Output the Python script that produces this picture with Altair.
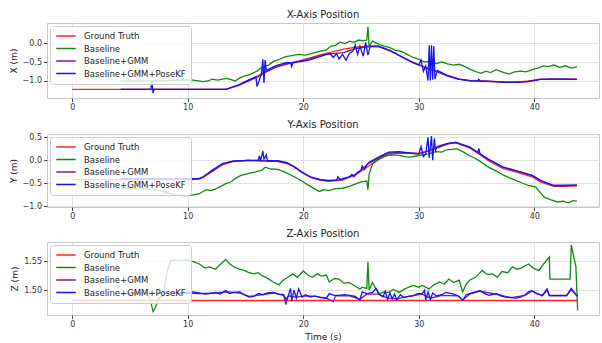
import altair as alt
import pandas as pd

SERIES = ["Ground Truth", "Baseline", "Baseline+GMM", "Baseline+GMM+PoseKF"]
COLORS = ["#ff2424", "#108a10", "#8a1496", "#1414f0"]
X_TICKS = [0, 10, 20, 30, 40]

# ---------------- X-Axis (time, value) ----------------
X_GT = [(0.0, -1.22), (4.2, -1.22), (8.0, -1.22), (13.3, -1.22), (14.4, -1.11), (15.3, -0.98),
        (16.0, -0.88), (16.8, -0.74), (17.6, -0.63), (18.5, -0.55), (19.5, -0.48), (20.5, -0.40),
        (21.5, -0.31), (22.5, -0.23), (23.5, -0.16), (24.5, -0.11), (25.5, -0.08), (26.5, -0.09),
        (27.5, -0.19), (28.5, -0.36), (29.5, -0.50), (30.5, -0.63), (31.5, -0.74), (32.5, -0.86),
        (33.5, -0.95), (34.5, -0.99), (35.5, -1.00), (36.5, -1.01), (37.5, -1.03), (38.5, -1.03),
        (39.5, -1.00), (40.5, -0.96), (41.5, -0.95), (42.5, -0.95), (43.7, -0.96)]
X_BASE = [(4.2, -1.00), (7.3, -1.00), (9.7, -0.97), (10.5, -0.98), (11.3, -1.02), (11.8, -1.00),
          (12.1, -0.95), (12.6, -0.98), (13.3, -0.93), (13.7, -0.96), (14.1, -1.00), (14.5, -0.92),
          (14.9, -0.87), (15.3, -0.84), (15.6, -0.80), (16.0, -0.74), (16.5, -0.62), (17.0, -0.58),
          (17.4, -0.49), (18.0, -0.42), (18.5, -0.36), (19.0, -0.33), (19.6, -0.30), (20.2, -0.32),
          (20.8, -0.27), (21.4, -0.22), (22.0, -0.18), (22.4, -0.08), (22.8, -0.06), (23.2, 0.03),
          (23.6, -0.02), (24.0, 0.05), (24.4, 0.02), (24.8, 0.08), (25.2, 0.06), (25.5, 0.08),
          (25.6, 0.43), (25.7, -0.08), (26.0, 0.05), (26.6, -0.04), (27.0, -0.08), (27.5, -0.12),
          (28.0, -0.19), (28.5, -0.22), (29.0, -0.30), (29.5, -0.38), (30.0, -0.43), (30.5, -0.50),
          (31.0, -0.48), (31.5, -0.54), (32.0, -0.50), (32.5, -0.55), (33.0, -0.58), (33.5, -0.56),
          (34.0, -0.62), (34.5, -0.70), (35.0, -0.76), (35.4, -0.80), (35.8, -0.74), (36.2, -0.78),
          (36.7, -0.70), (37.2, -0.76), (37.8, -0.82), (38.3, -0.76), (38.8, -0.74), (39.3, -0.76),
          (39.8, -0.70), (40.3, -0.66), (40.8, -0.60), (41.2, -0.62), (41.7, -0.58), (42.2, -0.64),
          (42.7, -0.60), (43.2, -0.66), (43.7, -0.62)]
X_GMM = [(4.2, -1.22), (13.3, -1.22), (14.4, -1.12), (15.3, -1.00), (16.0, -0.90), (16.8, -0.76),
         (17.6, -0.64), (18.5, -0.56), (19.5, -0.49), (20.5, -0.42), (21.5, -0.32), (22.5, -0.28),
         (23.5, -0.25), (24.5, -0.15), (25.5, -0.10), (26.5, -0.09), (27.5, -0.20), (28.5, -0.36),
         (29.5, -0.52), (30.5, -0.64), (31.5, -0.75), (32.5, -0.87), (33.5, -0.96), (34.5, -1.00),
         (35.5, -1.01), (36.5, -1.02), (37.5, -1.04), (38.5, -1.04), (39.5, -1.01), (40.5, -0.96),
         (41.5, -0.95), (42.5, -0.95), (43.7, -0.96)]
X_KF = [(4.2, -1.22), (6.8, -1.22), (6.9, -1.00), (7.0, -1.32), (7.1, -1.22), (13.3, -1.22),
        (14.4, -1.10), (15.3, -0.97), (15.9, -0.89), (16.0, -1.15), (16.2, -0.98), (16.4, -0.78),
        (16.5, -0.43), (16.6, -1.05), (16.7, -0.45), (16.8, -0.72), (17.6, -0.60), (18.5, -0.52),
        (18.9, -0.52), (19.0, -0.62), (19.1, -0.52), (20.5, -0.45), (21.5, -0.35), (22.3, -0.27),
        (22.6, -0.38), (22.9, -0.28), (23.1, -0.42), (23.4, -0.30), (23.7, -0.45), (24.0, -0.27),
        (24.3, -0.22), (24.5, -0.05), (24.7, -0.30), (24.9, -0.08), (25.2, -0.35), (25.4, 0.02),
        (25.6, -0.32), (25.8, -0.08), (26.5, -0.08), (27.5, -0.20), (28.0, -0.27), (28.5, -0.36),
        (29.5, -0.52), (30.0, -0.58), (30.2, -0.45), (30.4, -0.75), (30.6, -0.60), (30.8, -0.99),
        (30.9, -0.06), (31.0, -0.99), (31.1, -0.06), (31.2, -0.97), (31.3, -0.08), (31.4, -0.95),
        (31.6, -0.72), (32.5, -0.86), (33.5, -0.95), (34.5, -1.00), (35.1, -1.00), (35.2, -0.96),
        (35.3, -1.00), (36.5, -1.02), (37.5, -1.03), (38.5, -1.03), (39.5, -1.02), (40.5, -0.96),
        (41.5, -0.95), (42.5, -0.95), (43.7, -0.96)]

# ---------------- Y-Axis ----------------
Y_GT = [(0.0, -0.42), (4.2, -0.42), (10.5, -0.42), (11.3, -0.38), (12.1, -0.25), (13.0, -0.10),
        (13.9, -0.03), (15.2, 0.00), (16.4, -0.01), (17.8, -0.03), (18.6, -0.07), (19.3, -0.16),
        (19.9, -0.27), (20.7, -0.38), (21.5, -0.43), (22.2, -0.46), (23.4, -0.43), (24.6, -0.31),
        (25.7, -0.12), (26.6, 0.04), (27.4, 0.13), (28.3, 0.16), (29.2, 0.16), (30.0, 0.15),
        (30.8, 0.20), (31.5, 0.28), (32.5, 0.36), (33.2, 0.38), (34.4, 0.27), (35.3, 0.12),
        (36.1, -0.02), (37.3, -0.18), (38.6, -0.27), (39.8, -0.36), (40.6, -0.48), (41.7, -0.57),
        (42.5, -0.57), (43.7, -0.56)]
Y_BASE = [(4.2, -0.60), (5.5, -0.62), (6.6, -0.63), (7.6, -0.66), (8.4, -0.72), (9.0, -0.76),
          (9.8, -0.77), (10.4, -0.76), (11.0, -0.73), (11.6, -0.64), (12.0, -0.66), (12.5, -0.62),
          (13.3, -0.51), (13.7, -0.48), (14.1, -0.40), (14.6, -0.33), (15.2, -0.29), (15.8, -0.26),
          (16.4, -0.22), (16.7, -0.15), (17.2, -0.19), (17.8, -0.20), (18.5, -0.27), (19.3, -0.37),
          (19.8, -0.44), (20.3, -0.52), (20.7, -0.58), (21.0, -0.63), (21.4, -0.68), (21.8, -0.64),
          (22.2, -0.66), (22.8, -0.62), (23.4, -0.61), (24.0, -0.57), (24.6, -0.51), (25.0, -0.47),
          (25.5, -0.45), (25.6, -0.64), (25.7, -0.30), (26.0, -0.08), (26.6, 0.03), (27.2, 0.10),
          (27.6, 0.12), (28.3, 0.11), (28.8, 0.08), (29.2, 0.07), (29.9, 0.10), (30.8, 0.14),
          (31.5, 0.19), (32.0, 0.18), (32.4, 0.23), (33.3, 0.25), (33.8, 0.19), (34.4, 0.10),
          (34.9, 0.04), (35.4, -0.04), (36.1, -0.16), (36.6, -0.22), (37.3, -0.32), (37.8, -0.38),
          (38.4, -0.44), (38.9, -0.49), (39.5, -0.55), (40.1, -0.58), (40.5, -0.70), (40.9, -0.81),
          (41.4, -0.86), (42.0, -0.91), (42.5, -0.89), (43.0, -0.93), (43.3, -0.88), (43.7, -0.89)]
Y_GMM = [(4.2, -0.41), (11.0, -0.41), (12.1, -0.24), (13.0, -0.08), (13.9, -0.02), (15.2, 0.00),
         (16.4, -0.01), (17.8, -0.02), (18.6, -0.06), (19.3, -0.15), (19.9, -0.26), (20.7, -0.38),
         (21.5, -0.43), (22.2, -0.45), (23.4, -0.42), (24.6, -0.30), (25.7, -0.06), (26.6, 0.06),
         (27.4, 0.16), (28.3, 0.17), (29.2, 0.15), (30.0, 0.14), (31.0, 0.22), (31.8, 0.29),
         (32.5, 0.36), (33.2, 0.39), (34.4, 0.29), (35.3, 0.14), (36.1, 0.01), (37.3, -0.15),
         (38.6, -0.24), (39.8, -0.33), (40.6, -0.45), (41.7, -0.55), (42.5, -0.55), (43.7, -0.54)]
Y_KF = [(4.2, -0.40), (11.0, -0.40), (11.3, -0.37), (12.1, -0.22), (13.0, -0.07), (13.9, -0.02),
        (15.2, 0.00), (16.1, 0.00), (16.2, 0.10), (16.3, -0.02), (16.5, 0.20), (16.6, 0.02),
        (16.8, 0.12), (16.9, -0.01), (17.8, -0.01), (18.6, -0.05), (19.3, -0.15), (19.9, -0.26),
        (20.7, -0.37), (21.5, -0.42), (22.2, -0.44), (22.9, -0.43), (23.0, -0.36), (23.2, -0.42),
        (23.4, -0.40), (24.0, -0.36), (24.2, -0.31), (24.4, -0.36), (24.6, -0.28), (25.0, -0.22),
        (25.1, -0.12), (25.3, -0.20), (25.5, -0.10), (25.7, -0.04), (26.6, 0.08), (27.4, 0.18),
        (28.3, 0.19), (29.2, 0.16), (30.0, 0.14), (30.2, 0.30), (30.4, 0.08), (30.6, 0.14),
        (30.8, 0.50), (30.9, 0.05), (31.1, 0.53), (31.2, 0.00), (31.35, 0.48), (31.45, 0.22),
        (31.6, 0.30), (32.5, 0.37), (33.2, 0.39), (34.4, 0.29), (35.1, 0.17), (35.2, 0.26),
        (35.3, 0.14), (36.1, 0.01), (37.3, -0.15), (38.6, -0.24), (39.8, -0.33), (40.6, -0.45),
        (41.7, -0.55), (42.5, -0.55), (43.7, -0.54)]

# ---------------- Z-Axis ----------------
Z_GT = [(0.0, 1.482), (10.0, 1.482), (20.0, 1.482), (30.0, 1.482), (43.75, 1.482)]
Z_BASE = [(4.2, 1.494), (6.5, 1.494), (6.8, 1.480), (7.0, 1.463), (7.2, 1.470), (7.5, 1.486),
          (7.9, 1.490), (8.2, 1.530), (8.5, 1.551), (9.9, 1.552), (10.5, 1.549), (11.0, 1.545),
          (11.5, 1.538), (11.9, 1.540), (12.4, 1.536), (12.8, 1.544), (13.3, 1.553), (13.6, 1.546),
          (14.0, 1.540), (14.5, 1.536), (14.9, 1.534), (15.2, 1.531), (15.7, 1.528), (16.1, 1.530),
          (16.5, 1.524), (16.8, 1.522), (17.1, 1.518), (17.4, 1.514), (17.9, 1.509), (18.2, 1.516),
          (18.5, 1.520), (18.8, 1.524), (19.1, 1.528), (19.5, 1.522), (20.0, 1.533), (20.4, 1.526),
          (20.8, 1.522), (21.2, 1.528), (21.6, 1.524), (22.0, 1.526), (22.25, 1.514), (22.7, 1.520),
          (23.1, 1.519), (23.5, 1.512), (24.0, 1.513), (24.4, 1.508), (24.9, 1.502), (25.1, 1.505),
          (25.5, 1.503), (25.6, 1.549), (25.7, 1.500), (26.0, 1.513), (26.2, 1.505), (26.6, 1.494),
          (27.0, 1.497), (27.4, 1.496), (27.8, 1.501), (28.3, 1.496), (28.8, 1.502), (29.5, 1.508),
          (30.0, 1.505), (30.3, 1.508), (30.9, 1.502), (31.3, 1.509), (31.8, 1.514), (32.2, 1.510),
          (32.6, 1.519), (33.0, 1.513), (33.5, 1.517), (33.8, 1.497), (34.1, 1.510), (34.4, 1.517),
          (34.9, 1.522), (35.5, 1.534), (35.9, 1.527), (36.4, 1.528), (36.8, 1.522), (37.2, 1.532),
          (37.7, 1.530), (38.1, 1.540), (38.5, 1.536), (38.9, 1.538), (39.2, 1.542), (39.5, 1.545),
          (39.9, 1.538), (40.4, 1.534), (40.8, 1.545), (41.3, 1.557), (41.35, 1.519), (43.1, 1.519),
          (43.2, 1.578), (43.6, 1.540), (43.75, 1.465)]
Z_GMM = [(4.2, 1.494), (9.9, 1.495), (11.0, 1.494), (12.4, 1.495), (13.3, 1.497), (14.5, 1.495),
         (15.3, 1.489), (16.5, 1.492), (17.4, 1.495), (18.3, 1.491), (18.5, 1.475), (18.7, 1.490),
         (19.4, 1.488), (20.2, 1.490), (21.0, 1.489), (22.0, 1.486), (22.6, 1.480), (22.8, 1.490),
         (24.0, 1.490), (24.9, 1.484), (25.5, 1.493), (26.5, 1.493), (27.3, 1.486), (28.1, 1.485),
         (29.1, 1.489), (30.3, 1.493), (31.0, 1.486), (32.0, 1.491), (33.4, 1.490), (33.8, 1.483),
         (34.4, 1.493), (35.3, 1.498), (36.7, 1.493), (38.0, 1.487), (39.2, 1.491), (39.8, 1.498),
         (40.7, 1.490), (41.1, 1.500), (41.3, 1.490), (42.8, 1.490), (43.2, 1.501), (43.75, 1.489)]
Z_KF = [(4.2, 1.494), (9.9, 1.496), (10.4, 1.497), (11.0, 1.495), (11.5, 1.493), (11.9, 1.494),
        (12.4, 1.496), (12.8, 1.493), (13.3, 1.499), (13.6, 1.494), (14.0, 1.496), (14.5, 1.497),
        (14.9, 1.492), (15.3, 1.488), (15.7, 1.489), (16.1, 1.494), (16.5, 1.492), (16.9, 1.495),
        (17.4, 1.496), (17.9, 1.493), (18.3, 1.492), (18.5, 1.484), (18.7, 1.490), (18.9, 1.503),
        (19.0, 1.482), (19.2, 1.500), (19.4, 1.486), (19.6, 1.502), (19.9, 1.488), (20.2, 1.492),
        (20.6, 1.488), (21.0, 1.490), (21.5, 1.487), (22.0, 1.486), (22.25, 1.494), (22.7, 1.491),
        (23.1, 1.491), (23.6, 1.492), (24.0, 1.491), (24.5, 1.489), (24.9, 1.483), (25.1, 1.497),
        (25.5, 1.494), (26.0, 1.496), (26.3, 1.503), (26.5, 1.494), (26.9, 1.488), (27.1, 1.498),
        (27.3, 1.484), (27.5, 1.495), (27.7, 1.485), (27.9, 1.493), (28.1, 1.483), (28.4, 1.492),
        (28.7, 1.487), (29.1, 1.489), (29.5, 1.490), (29.9, 1.494), (30.3, 1.494), (30.5, 1.500),
        (30.6, 1.483), (30.8, 1.497), (31.0, 1.484), (31.2, 1.495), (31.5, 1.490), (32.0, 1.492),
        (32.3, 1.496), (32.9, 1.494), (33.4, 1.490), (33.8, 1.482), (34.1, 1.492), (34.4, 1.494),
        (34.9, 1.497), (35.3, 1.499), (35.7, 1.494), (36.1, 1.491), (36.7, 1.494), (37.1, 1.490),
        (37.5, 1.488), (38.0, 1.487), (38.4, 1.486), (38.8, 1.488), (39.2, 1.492), (39.5, 1.497),
        (39.8, 1.499), (40.2, 1.494), (40.7, 1.491), (41.1, 1.502), (41.3, 1.491), (42.0, 1.491),
        (42.8, 1.491), (43.2, 1.503), (43.6, 1.492), (43.75, 1.490)]

FONT = "DejaVu Sans"


def make_df(series_lists):
    rows = []
    for name, pts in zip(SERIES, series_lists):
        for i, (t, v) in enumerate(pts):
            rows.append({"t": t, "v": v, "series": name, "i": i})
    return pd.DataFrame(rows)


def panel(series_lists, title, ytitle, ydomain, yticks, yfmt, height, show_xtitle):
    df = make_df(series_lists)
    base = alt.Chart(df)
    if show_xtitle:
        xaxis = alt.Axis(values=X_TICKS, format="d", title="Time (s)")
    else:
        xaxis = alt.Axis(values=X_TICKS, format="d", title=None)
    layers = []
    for s in SERIES:
        layers.append(
            base.transform_filter(alt.datum.series == s)
            .mark_line(strokeWidth=1.3, clip=True)
            .encode(
                x=alt.X("t:Q", scale=alt.Scale(domain=[-2.18, 45.6], nice=False, zero=False), axis=xaxis),
                y=alt.Y("v:Q", scale=alt.Scale(domain=ydomain, nice=False, zero=False),
                        axis=alt.Axis(values=yticks, format=yfmt, title=ytitle)),
                color=alt.Color("series:N", scale=alt.Scale(domain=SERIES, range=COLORS),
                                legend=alt.Legend(orient="top-left", title=None, offset=3,
                                                  fillColor="rgba(255,255,255,0.8)",
                                                  strokeColor="#cccccc", padding=5, cornerRadius=3,
                                                  symbolType="stroke", symbolSize=380,
                                                  symbolStrokeWidth=1.6, labelFontSize=8.5,
                                                  labelFont=FONT, labelColor="#222222",
                                                  clipHeight=10, rowPadding=2.5, labelOffset=7)),
                order="i:Q",
            )
        )
    return alt.layer(*layers).properties(
        width=552, height=height,
        title=alt.TitleParams(title, fontSize=10, fontWeight="normal", font=FONT,
                              color="#222222", offset=3, anchor="middle"),
    )


p1 = panel([X_GT, X_BASE, X_GMM, X_KF], "X-Axis Position", "X (m)", [-1.45, 0.53],
           [-1.0, -0.5, 0.0], ".1f", 75, False)
p2 = panel([Y_GT, Y_BASE, Y_GMM, Y_KF], "Y-Axis Position", "Y (m)", [-1.02, 0.575],
           [-1.0, -0.5, 0.0, 0.5], ".1f", 73, False)
p3 = panel([Z_GT, Z_BASE, Z_GMM, Z_KF], "Z-Axis Position", "Z (m)", [1.457, 1.583],
           [1.50, 1.55], ".2f", 73, True)

chart = (
    alt.vconcat(p1, p2, p3, spacing=7)
    .resolve_scale(x="independent", y="independent", color="independent")
    .resolve_legend(color="independent")
    .properties(padding={"left": 8, "top": 9, "right": 0, "bottom": 0}, background="white")
    .configure_view(stroke="#c8c8c8", strokeWidth=1)
    .configure_axis(gridColor="#dcdcdc", gridWidth=0.8, domain=False, tickColor="#444444",
                    tickSize=3.5, labelFontSize=8, labelFont=FONT, labelColor="#333333",
                    labelPadding=2, titleFontSize=9, titleFont=FONT, titleFontWeight="normal",
                    titleColor="#222222", titlePadding=4)
)

chart.save("out.html", embed_options={"renderer": "svg", "actions": False})
